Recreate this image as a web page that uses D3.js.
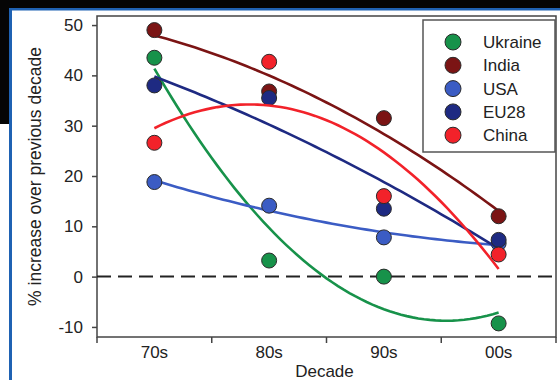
<!DOCTYPE html>
<html>
<head>
<meta charset="utf-8">
<script src="https://cdn.jsdelivr.net/npm/d3@7"></script>
<style>
  body { margin: 0; background: #fff; }
  svg { display: block; font-family: "Liberation Sans", Arial, sans-serif; }
</style>
</head>
<body>
<svg width="560" height="380"></svg>
<script>
// values
const decades = ["70s", "80s", "90s", "00s"];
const yTicks = [-10, 0, 10, 20, 30, 40, 50];
const seriesNames = ["Ukraine", "India", "USA", "EU28", "China"];
const seriesColors = ["#17924a", "#7b1414", "#3b5cc4", "#1e2a82", "#f2222a"];
const ukraine = [43.5, 3.2, 0, -9.3];
const india = [49, 36.8, 31.5, 12];
const usa = [18.8, 14.1, 7.8, 6.6];
const eu28 = [38, 35.5, 13.5, 7.3];
const china = [26.6, 42.7, 16, 4.4];
const seriesValues = [ukraine, india, usa, eu28, china];

const svg = d3.select("svg");

// frame round the figure
svg.append("rect").attr("x", 0).attr("y", 0).attr("width", 560).attr("height", 9).attr("fill", "#050505");
svg.append("rect").attr("x", 0).attr("y", 0).attr("width", 10).attr("height", 124).attr("fill", "#050505");
svg.append("rect").attr("x", 9).attr("y", 8).attr("width", 551).attr("height", 2.5).attr("fill", "#1f62b3");
svg.append("rect").attr("x", 9).attr("y", 8).attr("width", 3).attr("height", 372).attr("fill", "#1f62b3");

const mLeft = 97, mRight = 556, mTop = 16, mBottom = 337;

const x = d3.scaleBand().domain(decades).range([mLeft, mRight]);
const y = d3.scaleLinear().domain([-12, 51.8]).range([mBottom, mTop]);

// box
svg.append("rect")
  .attr("x", mLeft).attr("y", mTop)
  .attr("width", mRight - mLeft).attr("height", mBottom - mTop)
  .attr("fill", "none").attr("stroke", "#444").attr("stroke-width", 1.5);

// y axis
const yAxis = svg.append("g")
  .attr("transform", "translate(" + mLeft + ",0)")
  .call(d3.axisLeft(y).tickValues(yTicks).tickFormat(d => String(d)).tickSize(5).tickPadding(9));
yAxis.select(".domain").remove();
yAxis.selectAll("line").attr("stroke", "#444").attr("stroke-width", 1.5);
yAxis.selectAll("text").attr("font-size", 17).attr("fill", "#222").attr("font-family", null);

// x axis: labels at band centres, ticks at band edges
const xAxis = svg.append("g")
  .attr("transform", "translate(0," + mBottom + ")")
  .call(d3.axisBottom(x).tickSize(0).tickPadding(9));
xAxis.select(".domain").remove();
xAxis.selectAll("text").attr("font-size", 17).attr("fill", "#222").attr("font-family", null);
const edges = decades.map(d => x(d)).concat([x(decades[3]) + x.bandwidth()]);
svg.append("g").selectAll("line")
  .data(edges)
  .enter().append("line")
  .attr("x1", d => d).attr("x2", d => d)
  .attr("y1", mBottom).attr("y2", mBottom + 6)
  .attr("stroke", "#444").attr("stroke-width", 1.5);

// axis titles
svg.append("text")
  .attr("x", (mLeft + mRight) / 2 - 2).attr("y", 377)
  .attr("text-anchor", "middle").attr("font-size", 17).attr("fill", "#222")
  .text("Decade");
svg.append("text")
  .attr("transform", "translate(41," + (mTop + mBottom) / 2 + ") rotate(-90)")
  .attr("text-anchor", "middle").attr("font-size", 17.5).attr("fill", "#222")
  .text("% increase over previous decade");

// zero line
svg.append("line")
  .attr("x1", mLeft).attr("x2", mRight)
  .attr("y1", y(0)).attr("y2", y(0))
  .attr("stroke", "#222").attr("stroke-width", 2)
  .attr("stroke-dasharray", "14,7");

// quadratic least squares trend through the four points
function quadFit(vals) {
  const t = [-1.5, -0.5, 0.5, 1.5];
  const p2 = [1, -1, -1, 1];
  const a = d3.mean(vals);
  const b = d3.sum(vals.map((v, i) => v * t[i])) / 5;
  const c = d3.sum(vals.map((v, i) => v * p2[i])) / 4;
  return u => a + b * (u - 1.5) + c * ((u - 1.5) * (u - 1.5) - 1.25);
}

const xi = d3.scaleLinear().domain([0, 3])
  .range([x(decades[0]) + x.bandwidth() / 2, x(decades[3]) + x.bandwidth() / 2]);
const line = d3.line().x(d => xi(d[0])).y(d => y(d[1]));

seriesValues.forEach((vals, s) => {
  const f = quadFit(vals);
  const pts = d3.range(0, 3.001, 0.05).map(u => [u, f(u)]);
  svg.append("path")
    .datum(pts)
    .attr("d", line)
    .attr("fill", "none")
    .attr("stroke", seriesColors[s])
    .attr("stroke-width", 2.6);
  svg.append("g").selectAll("circle")
    .data(vals)
    .enter().append("circle")
    .attr("cx", (d, i) => x(decades[i]) + x.bandwidth() / 2)
    .attr("cy", d => y(d))
    .attr("r", 7.5)
    .attr("fill", seriesColors[s])
    .attr("stroke", "#2a2a2a").attr("stroke-width", 1);
});

// legend
const lg = svg.append("g");
lg.append("rect")
  .attr("x", 423).attr("y", 20).attr("width", 132).attr("height", 132)
  .attr("fill", "#fff").attr("stroke", "#555").attr("stroke-width", 1.5);
seriesNames.forEach((name, i) => {
  lg.append("circle")
    .attr("cx", 453).attr("cy", 42 + i * 23.3).attr("r", 8)
    .attr("fill", seriesColors[i]).attr("stroke", "#2a2a2a").attr("stroke-width", 1);
  lg.append("text")
    .attr("x", 483).attr("y", 42 + i * 23.3).attr("dy", "0.36em")
    .attr("font-size", 17).attr("fill", "#222")
    .text(name);
});
</script>
</body>
</html>
